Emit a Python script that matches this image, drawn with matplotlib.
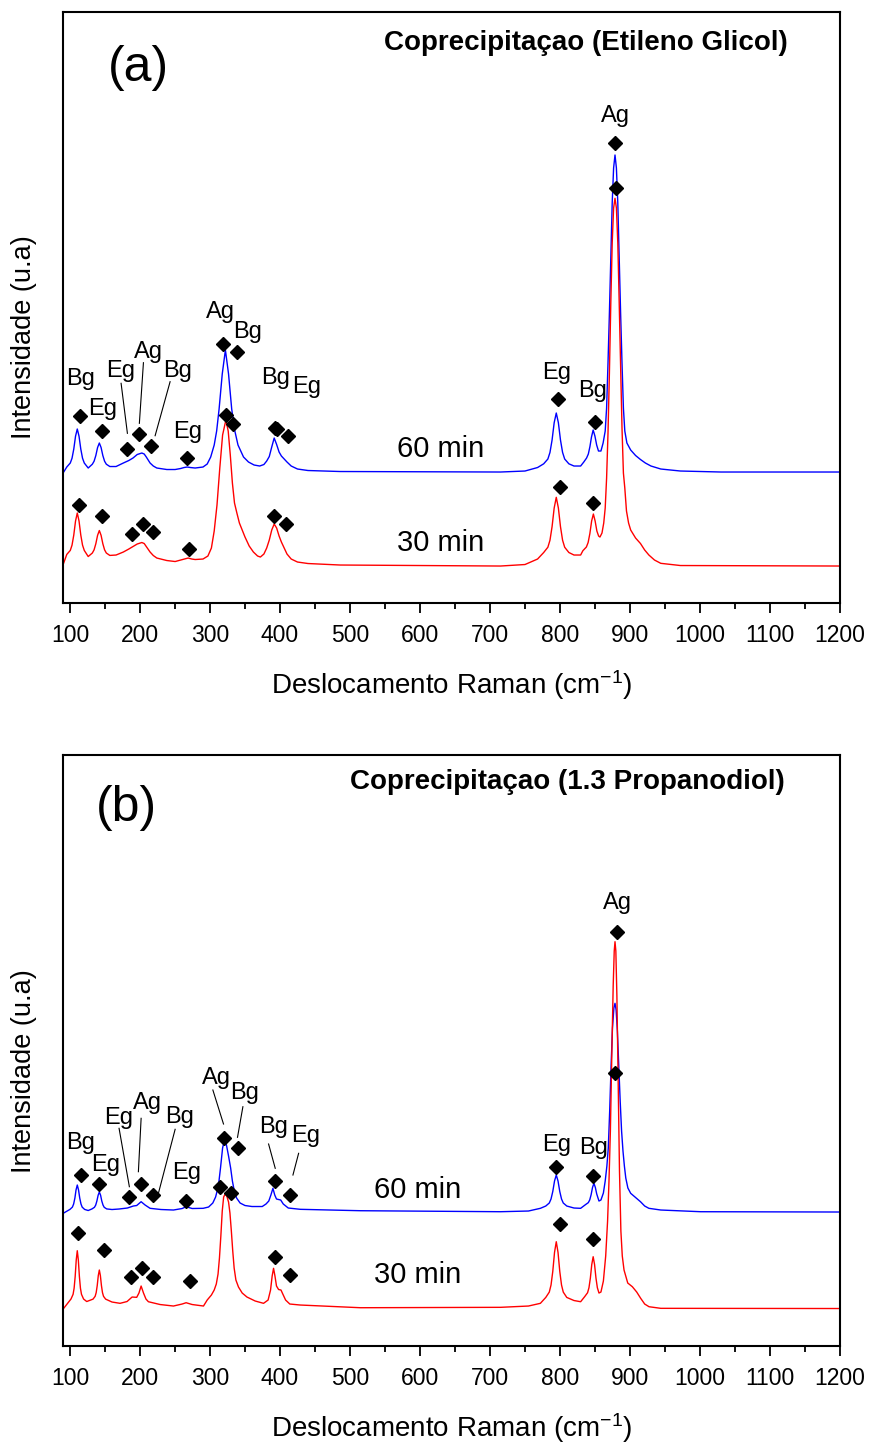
import matplotlib.pyplot as plt
from matplotlib.ticker import MultipleLocator

# ---- spectra (x: cm-1, y: intensity a.u.) ----
# (a) Etileno Glicol, 60 min
a60_x = [91, 95.4, 100.4, 102.9, 105.4, 107.9, 110.4, 112.9, 115.4, 117.9, 120.4, 126,
         131.9, 134.4, 136.9, 139.4, 141.9, 144.4, 146.9, 149.4, 151.9, 156.9, 165.8, 176.2,
         184, 190, 196, 202.6, 206, 209, 214.4, 219, 224, 238.3, 250.2, 258, 263, 267.4,
         272, 278.8, 290, 296, 301, 306, 309.5, 313, 317.5, 322, 326.5, 331, 335.5, 340,
         347.9, 355, 363, 371, 377, 381, 384.7, 388.2, 391.7, 395.2, 398.7, 402, 406, 410,
         416, 425, 440, 486, 715, 750, 768, 776.7, 782.7, 785.7, 788.7, 791.7, 794.7, 797.7,
         800.7, 803.7, 806.7, 812.7, 820, 829.5, 834, 838, 840.5, 842.8, 845, 847.4, 849.9,
         852.4, 855, 858.5, 861.6, 864.6, 866.6, 868.6, 870.6, 872.6, 874.6, 876.6, 878.6,
         880.6, 882.6, 884.6, 886.6, 888.6, 890.6, 892.6, 895.6, 901, 908, 915, 922, 930,
         944, 972, 1030, 1201]
a60_y = [131, 136, 140, 144.8, 154, 166.8, 174, 166.8, 154, 144.8, 140, 135,
         138.8, 141.8, 147.5, 155.5, 160, 155.5, 147.5, 141.8, 138.8, 136.5, 136.5, 140,
         142.5, 145, 148.5, 150, 149, 146, 140, 137, 135, 133.5, 133.5, 134.5, 135.5, 136,
         135.5, 135, 136, 139, 146, 158, 172, 194, 229, 253, 229, 194, 172, 158,
         146, 141, 138, 137, 138.5, 142, 146.5, 156, 165, 158.5, 151, 147, 144, 141,
         137, 134, 132.5, 131.5, 131, 132, 135.5, 139.2, 144, 150.6, 163, 180.3, 190, 180.3,
         163, 150.6, 144, 139.2, 137, 137, 141, 145, 149, 156.5, 166, 173, 167,
         158, 152, 152, 160, 172, 195, 240, 290, 345, 400, 435, 448,
         435, 400, 345, 290, 240, 195, 172, 160, 153, 147.5, 143.5, 140, 137,
         134, 132, 131, 131]

# (a) Etileno Glicol, 30 min
a30_x = [91, 95.4, 100.4, 102.9, 105.4, 107.9, 110.4, 112.9, 115.4, 117.9, 120.4, 126,
         131.9, 134.4, 136.9, 139.4, 141.9, 144.4, 146.9, 149.4, 151.9, 156.9, 165.8, 176.2,
         184, 190, 196, 202.6, 206, 209, 214.4, 219, 224, 238.3, 250.2, 258, 263, 268.8,
         274, 278.8, 290, 297, 302, 306, 310, 314, 318, 322.7, 326, 329, 332, 335, 338.4,
         342, 346, 350, 356, 362, 368, 372, 377, 381, 384.7, 388.2, 391.7, 395.2, 398.7,
         402, 406, 410, 416, 425, 440, 486, 715, 750, 768, 776.7, 782.7, 785.7, 788.7, 791.7,
         794.7, 797.7, 800.7, 803.7, 806.7, 812.7, 820, 829.5, 832.7, 837.7, 840.2, 842.7,
         845.2, 847.7, 850.2, 852.7, 855.2, 857.1, 860, 862.5, 864.6, 866.6, 868.6, 870.6,
         872.6, 874.6, 876.6, 878.6, 880.6, 882.6, 884.6, 886.6, 888.6, 890.6, 892.6, 895,
         898, 901, 908, 915, 921, 927, 935, 944, 972, 1201]
a30_y = [40, 48.6, 52.6, 57.9, 68, 82, 90, 82, 68, 57.9, 52.6, 46.5,
         50, 53.2, 59.3, 67.7, 72.5, 67.7, 59.3, 53.2, 50, 47.6, 48, 51,
         54, 56.5, 59, 60.5, 59.5, 56.5, 51, 47.5, 45, 42.5, 41.5, 43, 44, 45,
         44, 43.5, 44, 47, 55, 72, 98, 135, 168, 183, 172, 148, 120, 100, 90,
         80, 73, 66, 57, 51, 47, 46, 49, 55, 63, 73, 79, 75, 67,
         61, 55, 49, 44, 41, 39.5, 38, 37, 38.5, 44, 50.5, 55.8, 62.8, 76.4, 95,
         105.7, 95, 76.4, 62.8, 55.8, 50.5, 48, 48, 52.3, 56, 60.5, 69.5,
         82, 89, 82, 72, 67, 66, 70, 80, 95, 125, 170, 230,
         300, 360, 395, 404.7, 395, 360, 300, 235, 175, 130, 115, 92,
         80, 73, 65, 59.5, 53, 48, 43, 39.7, 37.5, 37]

# (b) 1.3 Propanodiol, 60 min
b60_x = [91, 99.9, 103.4, 105.2, 107, 108.6, 110.4, 112.2, 113.9, 115.7, 117.4, 120.9, 126,
         131.4, 134.9, 136.7, 138.4, 140.2, 141.9, 143.7, 145.4, 147.2, 148.9, 152.4, 160,
         170, 182, 190.5, 195.3, 201.6, 207.3, 214.4, 230, 247.8, 260.2, 265.9, 274.5,
         290.2, 298, 304, 308, 312, 315, 318, 320.7, 323.5, 326.5, 329.5, 332, 335, 338,
         343, 350, 360, 374.6, 380, 384, 387, 389.9, 392.5, 395, 398, 401, 404.7, 411.8,
         429, 514.8, 715, 755, 772, 779.7, 784.7, 787.2, 789.7, 792.2, 794.7, 797.2, 799.7,
         802.2, 804.7, 809.7, 820, 829.5, 836.5, 840.5, 842.5, 844.5, 846.5, 848.5, 850.5,
         852.5, 855.7, 858.5, 862, 864.6, 867, 869, 871, 873, 875, 877, 878.6, 880.2, 882,
         884, 886, 888, 890, 892, 894, 897, 901, 908, 915, 921, 927, 944, 1001, 1201]
b60_y = [133, 136.6, 138.9, 142, 148, 156, 161, 156, 148, 142, 138.9, 136.6, 135.5,
         137.1, 138.7, 140.9, 145, 150.8, 154, 150.8, 145, 140.9, 138.7, 137.1, 136.5,
         137, 138, 140, 140.5, 144.3, 141, 137.7, 136.5, 136, 137.5, 139.3, 137.5,
         137.7, 139, 143, 149, 160, 178, 198, 206, 201, 190, 178, 165, 154, 148,
         143, 140.5, 139.5, 139.5, 142, 145, 151, 157.7, 151, 147, 146.5, 146, 142, 138,
         136.7, 135.3, 134.3, 135, 137.7, 140, 143, 147, 154.5, 165, 171, 165, 154.5,
         147, 143, 140, 138, 137.7, 141.4, 143.4, 146.1, 151.4, 158.6, 162.7, 158.6,
         152, 145, 146, 153, 165, 180, 198, 235, 280, 318, 338, 342.7, 336, 315,
         280, 245, 215, 195, 180, 168, 158, 152.7, 148.5, 144.3, 140, 137.7, 136, 134.3, 134]

# (b) 1.3 Propanodiol, 30 min
b30_x = [91, 101.4, 104.4, 105.9, 107.4, 108.9, 110.4, 111.9, 113.4, 114.9, 116.4, 119.4,
         123.9, 132.9, 135.9, 137.4, 138.9, 140.4, 141.9, 143.4, 144.9, 146.4, 147.9, 150.9,
         160, 171.5, 181.5, 188.7, 195.3, 198.5, 201.6, 205, 208.5, 212, 228.7, 247.8,
         260.2, 265.9, 274.5, 290.7, 296, 302, 306, 309, 311.5, 313.5, 315.5, 317.5, 319.5,
         321.7, 324, 326.5, 328.5, 330.5, 332.5, 334.5, 337, 340.7, 346, 352.8, 364.6,
         376.5, 383, 386.5, 388.8, 390.8, 392.8, 395, 398, 401.4, 404, 408, 414, 429, 515,
         715, 755, 772, 779.7, 784.7, 787.2, 789.7, 792.2, 794.7, 797.2, 799.7, 802.2, 804.7,
         809.7, 820, 829.5, 835.4, 839.4, 841.4, 843.4, 845.4, 847.4, 849.4, 851.4, 853.4,
         855.7, 858.5, 862, 865.3, 868, 870, 872, 874, 876, 877.5, 878.6, 879.8, 881.3,
         883, 885, 887, 889, 891.5, 896.8, 903.4, 909.6, 915.3, 921, 927.2, 944, 1201]
b30_y = [37.7, 47, 51.7, 57.9, 69.6, 86, 95.3, 86, 69.6, 57.9, 51.7, 47,
         44.5, 46.9, 49.7, 53.4, 60.5, 70.4, 76, 70.4, 60.5, 53.4, 49.7, 46.9,
         44, 42.7, 44.5, 49, 48.7, 53, 60, 53, 47, 44.3, 41.5, 40,
         42, 43.3, 41.5, 40, 46, 51, 56, 62, 72, 88, 110, 135, 149,
         152, 150, 144, 133, 115, 95, 78, 66, 59, 53, 49, 45,
         42.7, 46, 56, 70, 77.7, 70, 60, 56.5, 56, 52, 46, 42, 41, 38.3,
         38.7, 40, 42.7, 48.6, 53.9, 61, 74.6, 93.6, 104.3, 93.6, 74.6, 61, 53.9,
         48.6, 45.5, 44.3, 49.5, 53.3, 58.3, 68, 81.5, 89.3, 81.5, 68, 58.3,
         53, 54, 65, 90, 125, 165, 215, 290, 360, 395, 404.3, 395, 350,
         270, 175, 115, 90, 76, 63, 59.3, 54, 47.7, 42, 39.3, 37.7, 37.5]

# ---- peak assignments: diamonds, labels, leader lines ----
a_mark_x = [114.3, 145.3, 182, 199.1, 215.4, 266.9, 317.9, 338.4, 322.7, 332.7, 392.5, 395.4, 410.8,
            797, 849.5, 878.6, 879.6,
            112.9, 145.3, 189.1, 204, 219.2, 270.2, 390.8, 409, 799.5, 847.7]
a_mark_y = [187, 172, 154, 169, 157.5, 145.5, 259.5, 251, 188, 179, 175, 174, 167,
            203.7, 181.3, 459.7, 415.3,
            98, 87, 68.7, 78.7, 71.3, 53.7, 87.3, 78.7, 115.7, 99.7]
a_lab = ['Bg', 'Eg', 'Eg', 'Ag', 'Bg', 'Eg', 'Ag', 'Bg', 'Bg', 'Eg', 'Eg', 'Bg', 'Ag']
a_lab_x = [115.3, 146.2, 173, 212, 253.5, 267.8, 314.6, 353.6, 393.2, 438.6, 794.7, 847.1, 879.6]
a_lab_y = [223.7, 193.7, 232.3, 250.7, 232.3, 170.7, 291.3, 270.7, 224.7, 216.3, 230.3, 212, 487]
a_leaders = [((173, 182), (219.7, 169.7)),
             ((204.9, 199.1), (240.3, 179.7)),
             ((243, 221.6), (221.3, 167.3))]

b_mark_x = [115.3, 141.9, 184.8, 201.6, 218.3, 265.5, 319.3, 339.3, 314.6, 329.9, 392.2, 413.7,
            794.7, 847.1, 878.1, 881,
            111, 148.6, 186.8, 202.6, 219.2, 271.6, 393.2, 414.7, 799.5, 847.1]
b_mark_y = [171, 161.7, 148.7, 162, 151, 145.3, 207.7, 198.3, 158.7, 152.7, 165.3, 151,
            179.3, 170.3, 272.7, 414.3,
            112.7, 96, 69.3, 77.7, 69.3, 65, 88.7, 70.7, 122, 106.7]
b_lab = ['Bg', 'Eg', 'Eg', 'Ag', 'Bg', 'Eg', 'Ag', 'Bg', 'Bg', 'Eg', 'Eg', 'Bg', 'Ag']
b_lab_x = [115.3, 151.5, 169.1, 210.6, 256.3, 265.9, 309.8, 348.9, 390.8, 436.1, 794.7, 848.5, 882]
b_lab_y = [203.3, 181, 227.7, 242.7, 229.3, 173.3, 267.7, 252.7, 219.3, 210, 201, 197.7, 442.7]
b_leaders = [((170.1, 184.8), (217.7, 159.3)),
             ((201.6, 197.7), (227.7, 174.3)),
             ((250.2, 226.3), (216.7, 152.7)),
             ((304.1, 319.3), (256, 222)),
             ((347, 339.3), (239.3, 208.7)),
             ((383.7, 393.2), (202, 177.7)),
             ((426.6, 418.5), (192.7, 171))]

time_labels = ['60 min', '30 min']
a_time_pos = [(629.3, 154), (629.3, 60)]
b_time_pos = [(596.4, 156), (596.4, 71)]

titles = ['Coprecipitaçao (Etileno Glicol)', 'Coprecipitaçao (1.3 Propanodiol)']
letters = ['(a)', '(b)']

plt.rcParams['font.family'] = ['Liberation Sans', 'DejaVu Sans']
plt.rcParams['mathtext.fontset'] = 'custom'
plt.rcParams['mathtext.rm'] = 'Liberation Sans'
plt.rcParams['mathtext.it'] = 'Liberation Sans'
narrow = ['Liberation Sans Narrow', 'Liberation Sans']

fig = plt.figure(figsize=(8.69, 14.43), dpi=100)
ax_a = fig.add_axes([0.0725, 0.5821, 0.8941, 0.4096])
ax_b = fig.add_axes([0.0725, 0.0672, 0.8941, 0.4096])

panels = [
    (ax_a, a60_x, a60_y, a30_x, a30_y, a_mark_x, a_mark_y, a_lab, a_lab_x, a_lab_y, a_leaders, a_time_pos),
    (ax_b, b60_x, b60_y, b30_x, b30_y, b_mark_x, b_mark_y, b_lab, b_lab_x, b_lab_y, b_leaders, b_time_pos),
]
letter_pos = [(0.0965, 0.905), (0.082, 0.910)]
title_pos = [(0.673, 0.9475), (0.649, 0.954)]
ylab_y = [0.45, 0.465]

for i, (ax, x60, y60, x30, y30, mx, my, lab, lx, ly, leaders, tpos) in enumerate(panels):
    ax.plot(x60, y60, color='#0000FF', lw=1.0)
    ax.plot(x30, y30, color='#FF0000', lw=1.0)
    ax.plot(mx, my, linestyle='none', marker='D', color='black', markersize=7.5)
    for t, x, y in zip(lab, lx, ly):
        ax.text(x, y, t, ha='center', va='center', fontsize=17)
    for xs, ys in leaders:
        ax.plot(xs, ys, color='black', lw=0.8)
    for t, (x, y) in zip(time_labels, tpos):
        ax.text(x, y, t, ha='center', va='center', fontsize=21)

    ax.text(*letter_pos[i], letters[i], transform=ax.transAxes, ha='center', va='center',
            fontsize=36, family=narrow)
    ax.text(*title_pos[i], titles[i], transform=ax.transAxes, ha='center', va='center',
            fontsize=20, fontweight='bold')

    ax.set_xlim(90, 1200)
    ax.set_ylim(0, 591)
    ax.set_yticks([])
    ax.xaxis.set_major_locator(MultipleLocator(100))
    ax.xaxis.set_minor_locator(MultipleLocator(50))
    ax.tick_params(axis='x', which='major', direction='out', length=7, width=1.3, pad=8,
                   labelsize=16.5)
    ax.tick_params(axis='x', which='minor', direction='out', length=4, width=1.3)
    for lbl in ax.get_xticklabels():
        lbl.set_family(narrow)
    for s in ax.spines.values():
        s.set_linewidth(1.5)

    ax.set_xlabel('Deslocamento Raman (cm$^{-1}$)', fontsize=20)
    ax.xaxis.set_label_coords(0.5, -0.11)
    ax.set_ylabel('Intensidade (u.a)', fontsize=19.5)
    ax.yaxis.set_label_coords(-0.033, ylab_y[i])

fig.savefig('out.png', dpi=100)
